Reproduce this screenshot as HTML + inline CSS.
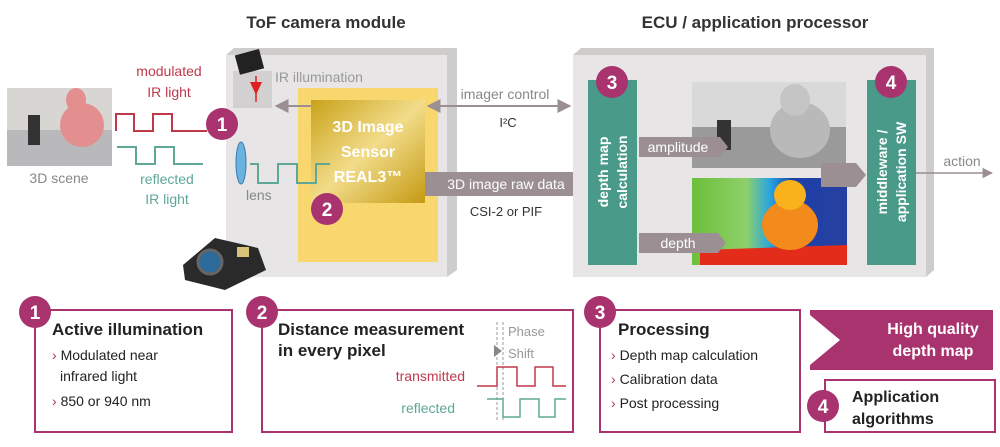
<!DOCTYPE html>
<html><head><meta charset="utf-8"><style>
body{margin:0;background:#fff}
svg{display:block;font-family:"Liberation Sans",sans-serif}
</style></head><body>
<svg width="1000" height="447" viewBox="0 0 1000 447" xmlns="http://www.w3.org/2000/svg">
<defs>
<linearGradient id="gold" x1="0" y1="0" x2="1" y2="1">
<stop offset="0" stop-color="#c9a21a"/><stop offset="0.5" stop-color="#f2dc8a"/><stop offset="1" stop-color="#c49a12"/></linearGradient>
<linearGradient id="dep" x1="0" y1="0" x2="1" y2="0">
<stop offset="0" stop-color="#6cbf3a"/><stop offset="0.35" stop-color="#8ed06a"/><stop offset="0.5" stop-color="#2aa6e0"/><stop offset="0.65" stop-color="#1d3fa8"/><stop offset="1" stop-color="#2740a0"/></linearGradient>
<marker id="ah" viewBox="0 0 10 10" refX="9" refY="5" markerWidth="7" markerHeight="7" orient="auto-start-reverse"><path d="M0,0L10,5L0,10z" fill="#9b8f93"/></marker>
</defs>
<text x="326" y="28" font-size="17" font-weight="bold" fill="#333" text-anchor="middle">ToF camera module</text>
<text x="755" y="28" font-size="17" font-weight="bold" fill="#333" text-anchor="middle">ECU / application processor</text>

<!-- scene photo -->
<rect x="7" y="88" width="105" height="78" fill="#d8d6d2"/>
<rect x="7" y="130" width="105" height="36" fill="#b9b9bb"/>
<ellipse cx="82" cy="125" rx="22" ry="22" fill="#e48f8f"/>
<ellipse cx="76" cy="100" rx="10" ry="12" fill="#e48f8f"/>
<rect x="28" y="115" width="12" height="30" fill="#333"/>
<text x="59" y="183" font-size="14" fill="#888" text-anchor="middle">3D scene</text>

<text x="169" y="76" font-size="14" fill="#c0394b" text-anchor="middle">modulated</text>
<text x="169" y="97" font-size="14" fill="#c0394b" text-anchor="middle">IR light</text>
<path d="M116,131V114H134V131H153V114H172V131H207" fill="none" stroke="#c0394b" stroke-width="2"/>
<path d="M117,147H136V164H155V147H174V164H203" fill="none" stroke="#5fa898" stroke-width="2"/>
<text x="167" y="184" font-size="14" fill="#5fa898" text-anchor="middle">reflected</text>
<text x="167" y="204" font-size="14" fill="#5fa898" text-anchor="middle">IR light</text>

<!-- camera box -->
<path d="M226,55L234,48H457V270L447,277Z" fill="#cfcccc"/>
<rect x="226" y="55" width="221" height="222" fill="#e7e5e5"/>
<rect x="233" y="71" width="39" height="37" fill="#d2d0d0"/>
<rect x="237" y="52" width="25" height="20" fill="#222" transform="rotate(-15 249 62)"/>
<path d="M250,82L262,82L256,95Z" fill="#d22"/><line x1="256" y1="76" x2="256" y2="102" stroke="#d22" stroke-width="1.5"/>
<text x="275" y="82" font-size="14" fill="#999">IR illumination</text>
<circle cx="222" cy="124" r="16" fill="#a8336e"/>
<text x="222" y="131" font-size="19" font-weight="bold" fill="#fff" text-anchor="middle">1</text>
<rect x="298" y="88" width="140" height="174" fill="#f7d76e"/>
<rect x="311" y="100" width="114" height="103" fill="url(#gold)"/>
<text x="368" y="132" font-size="16" font-weight="bold" fill="#fff" text-anchor="middle">3D Image</text>
<text x="368" y="157" font-size="16" font-weight="bold" fill="#fff" text-anchor="middle">Sensor</text>
<text x="368" y="182" font-size="16" font-weight="bold" fill="#fff" text-anchor="middle">REAL3™</text>
<line x1="311" y1="106" x2="276" y2="106" stroke="#9b8f93" stroke-width="2" marker-end="url(#ah)"/>
<line x1="428" y1="106" x2="570" y2="106" stroke="#9b8f93" stroke-width="2" marker-start="url(#ah)" marker-end="url(#ah)"/>
<text x="505" y="99" font-size="14" fill="#888" text-anchor="middle">imager control</text>
<text x="508" y="127" font-size="13" fill="#333" text-anchor="middle">I²C</text>
<ellipse cx="241" cy="163" rx="5" ry="21" fill="#6ab3e0" stroke="#3a7ab0"/>
<path d="M250,164H258V183H278V164H297V183H316V164H330" fill="none" stroke="#5fa898" stroke-width="2"/>
<text x="246" y="200" font-size="14" fill="#888">lens</text>
<circle cx="327" cy="209" r="16" fill="#a8336e"/>
<text x="327" y="216" font-size="19" font-weight="bold" fill="#fff" text-anchor="middle">2</text>
<path d="M425,172H579L587,184L579,196H425Z" fill="#9b8f93"/>
<text x="506" y="189" font-size="14" fill="#fff" text-anchor="middle">3D image raw data</text>
<text x="506" y="216" font-size="13" fill="#333" text-anchor="middle">CSI-2 or PIF</text>
<!-- camera product -->
<path d="M183,265L215,238L258,248L266,270L225,290L185,280Z" fill="#2a2a2a"/>
<circle cx="210" cy="262" r="12" fill="#2c6a9a" stroke="#666" stroke-width="3"/>
<rect x="237" y="247" width="12" height="10" fill="#d8c27a"/>

<!-- ECU box -->
<path d="M573,55L581,48H934V270L926,277Z" fill="#cfcccc"/>
<rect x="573" y="55" width="353" height="222" fill="#e7e5e5"/>
<rect x="588" y="80" width="49" height="185" fill="#4a9a8a"/>
<circle cx="612" cy="82" r="16" fill="#a8336e"/>
<text x="612" y="89" font-size="19" font-weight="bold" fill="#fff" text-anchor="middle">3</text>
<text transform="translate(608,172) rotate(-90)" font-size="14" font-weight="bold" fill="#fff" text-anchor="middle">depth map</text>
<text transform="translate(627,172) rotate(-90)" font-size="14" font-weight="bold" fill="#fff" text-anchor="middle">calculation</text>
<rect x="692" y="82" width="154" height="86" fill="#9a9a9a"/>
<rect x="692" y="82" width="154" height="45" fill="#d9d9d9"/>
<ellipse cx="800" cy="130" rx="30" ry="28" fill="#b9b9b9"/>
<ellipse cx="795" cy="100" rx="15" ry="16" fill="#c5c5c5"/>
<rect x="717" y="120" width="14" height="30" fill="#333"/>
<rect x="692" y="178" width="155" height="87" fill="url(#dep)"/>
<path d="M700,265L700,250L847,245V265Z" fill="#e42c1a"/>
<ellipse cx="790" cy="225" rx="28" ry="25" fill="#f38a1c"/>
<ellipse cx="790" cy="195" rx="16" ry="15" fill="#f9b21c"/>
<path d="M639,137H720L728,147L720,157H639Z" fill="#9b8f93"/>
<text x="678" y="152" font-size="14" fill="#fff" text-anchor="middle">amplitude</text>
<path d="M639,233H718L726,243L718,253H639Z" fill="#9b8f93"/>
<text x="678" y="248" font-size="14" fill="#fff" text-anchor="middle">depth</text>
<path d="M821,163H856L866,175L856,187H821Z" fill="#9b8f93"/>
<rect x="867" y="80" width="49" height="185" fill="#4a9a8a"/>
<circle cx="891" cy="82" r="16" fill="#a8336e"/>
<text x="891" y="89" font-size="19" font-weight="bold" fill="#fff" text-anchor="middle">4</text>
<text transform="translate(887,172) rotate(-90)" font-size="14" font-weight="bold" fill="#fff" text-anchor="middle">middleware /</text>
<text transform="translate(906,172) rotate(-90)" font-size="14" font-weight="bold" fill="#fff" text-anchor="middle">application SW</text>
<line x1="916" y1="173" x2="992" y2="173" stroke="#9b8f93" stroke-width="1.5" marker-end="url(#ah)"/>
<text x="962" y="166" font-size="14" fill="#888" text-anchor="middle">action</text>

<!-- bottom boxes -->
<g fill="none" stroke="#a8336e" stroke-width="2">
<rect x="35" y="310" width="197" height="122"/>
<rect x="262" y="310" width="311" height="122"/>
<rect x="600" y="310" width="200" height="122"/>
<rect x="825" y="380" width="170" height="52"/>
</g>
<circle cx="35" cy="312" r="16" fill="#a8336e"/><text x="35" y="319" font-size="19" font-weight="bold" fill="#fff" text-anchor="middle">1</text>
<circle cx="262" cy="312" r="16" fill="#a8336e"/><text x="262" y="319" font-size="19" font-weight="bold" fill="#fff" text-anchor="middle">2</text>
<circle cx="600" cy="312" r="16" fill="#a8336e"/><text x="600" y="319" font-size="19" font-weight="bold" fill="#fff" text-anchor="middle">3</text>
<circle cx="823" cy="406" r="16" fill="#a8336e"/><text x="823" y="413" font-size="19" font-weight="bold" fill="#fff" text-anchor="middle">4</text>
<text x="52" y="335" font-size="17" font-weight="bold" fill="#222">Active illumination</text>
<g font-size="14" fill="#222">
<text x="52" y="360"><tspan fill="#a8336e">› </tspan>Modulated near</text>
<text x="60" y="381">infrared light</text>
<text x="52" y="406"><tspan fill="#a8336e">› </tspan>850 or 940 nm</text>
</g>
<text x="278" y="335" font-size="17" font-weight="bold" fill="#222">Distance measurement</text>
<text x="278" y="356" font-size="17" font-weight="bold" fill="#222">in every pixel</text>
<text x="508" y="336" font-size="13" fill="#999">Phase</text>
<text x="508" y="358" font-size="13" fill="#999">Shift</text>
<line x1="497" y1="322" x2="497" y2="420" stroke="#999" stroke-dasharray="3,2"/>
<line x1="503" y1="322" x2="503" y2="420" stroke="#999" stroke-dasharray="3,2"/>
<path d="M494,345L502,351L494,357Z" fill="#888"/>
<text x="465" y="381" font-size="14" fill="#c0394b" text-anchor="end">transmitted</text>
<path d="M477,386H497V367H517V386H535V367H553V386H566" fill="none" stroke="#c0394b" stroke-width="1.5"/>
<text x="455" y="413" font-size="14" fill="#5fa898" text-anchor="end">reflected</text>
<path d="M487,399H503V417H520V399H539V417H555V399H566" fill="none" stroke="#5fa898" stroke-width="1.5"/>
<text x="618" y="335" font-size="17" font-weight="bold" fill="#222">Processing</text>
<g font-size="14" fill="#222">
<text x="611" y="360"><tspan fill="#a8336e">› </tspan>Depth map calculation</text>
<text x="611" y="384"><tspan fill="#a8336e">› </tspan>Calibration data</text>
<text x="611" y="408"><tspan fill="#a8336e">› </tspan>Post processing</text>
</g>
<rect x="810" y="310" width="183" height="60" fill="#a8336e"/>
<path d="M810,315L840,340L810,365Z" fill="#fff"/>
<text x="933" y="334" font-size="16" font-weight="bold" fill="#fff" text-anchor="middle">High quality</text>
<text x="933" y="356" font-size="16" font-weight="bold" fill="#fff" text-anchor="middle">depth map</text>
<text x="852" y="402" font-size="16" font-weight="bold" fill="#222">Application</text>
<text x="852" y="424" font-size="16" font-weight="bold" fill="#222">algorithms</text>
</svg>
</body></html>
